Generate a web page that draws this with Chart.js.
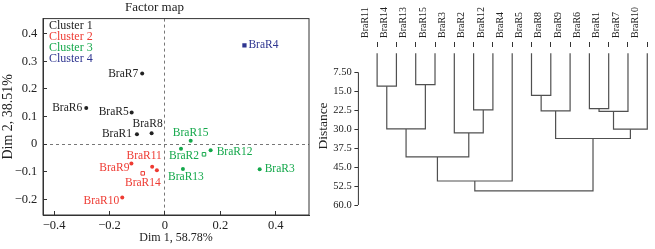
<!DOCTYPE html>
<html lang="en">
<head>
<meta charset="UTF-8">
<title>Factor map and dendrogram</title>
<script src="https://cdn.jsdelivr.net/npm/chart.js"></script>
<style>
    body { margin: 0; background: #fff; }
    #left { position: absolute; left: 0; top: 0; }
    #right { position: absolute; left: 312px; top: 0; }
</style>
</head>
<body>
<canvas id="left" width="315" height="249"></canvas>
<canvas id="right" width="343" height="249"></canvas>
<script>
// ---- factor map data ----
const names = ['BraR1','BraR2','BraR3','BraR4','BraR5','BraR6','BraR7','BraR8','BraR9','BraR10','BraR11','BraR12','BraR13','BraR14','BraR15'];
const dim1 = [-0.101, 0.058, 0.342, 0.287, -0.120, -0.284, -0.082, -0.048, -0.121, -0.154, -0.046, 0.165, 0.065, -0.029, 0.093];
const dim2 = [0.036, -0.017, -0.091, 0.358, 0.115, 0.131, 0.256, 0.039, -0.070, -0.194, -0.082, -0.022, -0.090, -0.095, 0.012];
const cluster = [1, 3, 3, 4, 1, 1, 1, 1, 2, 2, 2, 3, 3, 2, 3];
const clusterNames = ['Cluster 1', 'Cluster 2', 'Cluster 3', 'Cluster 4'];
const clusterColors = ['#222222', '#ee3b33', '#14a84b', '#2e3590'];
const centroidDim1 = [-0.080, 0.141];
const centroidDim2 = [-0.106, -0.037];
const centroidCluster = [2, 3];
const xTicks = [-0.4, -0.2, 0, 0.2, 0.4];
const yTicks = [-0.2, -0.1, 0, 0.1, 0.2, 0.3, 0.4];

// ---- dendrogram data ----
const leaves = ['BraR11','BraR14','BraR13','BraR15','BraR3','BraR2','BraR12','BraR4','BraR5','BraR8','BraR9','BraR6','BraR1','BraR7','BraR10'];
// [left node, right node, height]; m<k> refers to merge k
const merges = [
    ['BraR13', 'BraR15', 12.4],
    ['BraR11', 'BraR14', 13.0],
    ['BraR5', 'BraR8', 16.6],
    ['BraR6', 'BraR1', 21.9],
    ['BraR2', 'BraR12', 22.4],
    ['m2', 'BraR9', 22.8],
    ['m3', 'BraR7', 23.0],
    ['m1', 'm0', 29.9],
    ['m6', 'BraR10', 30.0],
    ['BraR3', 'm4', 31.5],
    ['m5', 'm8', 33.7],
    ['m7', 'm9', 41.0],
    ['m11', 'BraR4', 50.5],
    ['m12', 'm10', 54.4]
];
const distTicks = [7.5, 15, 22.5, 30, 37.5, 45, 52.5, 60];

// label placement beside each point: [align, dx, dy]
const labelPlace = {
    BraR1: ['right', -5, 0], BraR2: ['center', 3, 7], BraR3: ['left', 5, 0],
    BraR4: ['left', 4, 0], BraR5: ['right', -3, 0], BraR6: ['right', -4, 0],
    BraR7: ['right', -4, 0], BraR8: ['center', -4, -9], BraR9: ['right', -2, 5],
    BraR10: ['right', -3, 3], BraR11: ['center', -8, -11], BraR12: ['left', 6, 2],
    BraR13: ['center', 3, 8], BraR14: ['center', -14, 13], BraR15: ['center', 0, -8]
};

const serif = "'Liberation Serif', 'Times New Roman', serif";
const ink = '#222';
const fmt = v => v === 0 ? '0' : (v < 0 ? '\u2212' : '') + Math.abs(v).toFixed(1);

// build scatter datasets per cluster
const datasets = clusterNames.map((cn, ci) => {
    const pts = [];
    names.forEach((n, i) => {
        if (cluster[i] === ci + 1) pts.push({ x: dim1[i], y: dim2[i], name: n });
    });
    return {
        label: cn,
        data: pts,
        pointStyle: ci === 3 ? 'rect' : 'circle',
        pointRadius: ci === 3 ? 3 : 2,
        backgroundColor: clusterColors[ci],
        borderColor: clusterColors[ci],
        borderWidth: 0
    };
});
datasets.push({
    label: 'centroids',
    data: centroidDim1.map((x, i) => ({ x: x, y: centroidDim2[i] })),
    pointStyle: 'rect',
    pointRadius: 2.5,
    backgroundColor: '#fff',
    borderColor: centroidCluster.map(c => clusterColors[c - 1]),
    borderWidth: 1
});

const factorDecor = {
    id: 'factorDecor',
    afterDatasetsDraw(chart) {
        const ctx = chart.ctx;
        const a = chart.chartArea;
        ctx.save();
        // point labels
        ctx.font = '11.5px ' + serif;
        ctx.textBaseline = 'middle';
        chart.data.datasets.forEach((ds, di) => {
            if (di > 3) return;
            const meta = chart.getDatasetMeta(di);
            ds.data.forEach((p, i) => {
                const el = meta.data[i];
                const pl = labelPlace[p.name];
                ctx.fillStyle = clusterColors[di];
                ctx.textAlign = pl[0];
                ctx.fillText(p.name, el.x + pl[1], el.y + pl[2]);
            });
        });
        // legend text
        ctx.font = '12px ' + serif;
        ctx.textAlign = 'left';
        clusterNames.forEach((cn, i) => {
            ctx.fillStyle = clusterColors[i];
            ctx.fillText(cn, a.left + 6, a.top + 7.5 + i * 10.8);
        });
        // frame
        ctx.strokeStyle = '#333';
        ctx.lineWidth = 1;
        ctx.strokeRect(a.left, a.top, a.right - a.left, a.bottom - a.top);
        ctx.restore();
    }
};

const zeroGrid = c => (c.tick && c.tick.value === 0) ? '#777' : 'rgba(0,0,0,0)';

new Chart(document.getElementById('left'), {
    type: 'scatter',
    data: { datasets: datasets },
    options: {
        responsive: false,
        animation: false,
        layout: { padding: { left: 0, right: 6, top: 0, bottom: 0 } },
        plugins: {
            legend: { display: false },
            tooltip: { enabled: false },
            title: {
                display: true, text: 'Factor map', color: ink,
                font: { family: serif, size: 13, weight: 'normal' },
                padding: { top: 0, bottom: 3 }
            }
        },
        scales: {
            x: {
                type: 'linear', min: -0.44, max: 0.52,
                afterBuildTicks: s => { s.ticks = xTicks.map(v => ({ value: v })); },
                afterFit: s => { s.height = 34; },
                ticks: { callback: fmt, color: ink, padding: 7.5, font: { family: serif, size: 12.5 } },
                grid: { color: zeroGrid, tickColor: '#333', tickLength: -4, lineWidth: 1 },
                border: { color: '#333', dash: [3, 3] },
                title: {
                    display: true, text: 'Dim 1, 58.78%', color: ink,
                    font: { family: serif, size: 12 }, padding: { top: 0, bottom: 3.5 }
                }
            },
            y: {
                type: 'linear', min: -0.257, max: 0.455,
                afterBuildTicks: s => { s.ticks = yTicks.map(v => ({ value: v })); },
                afterFit: s => { s.width = 43; },
                ticks: { callback: fmt, color: ink, padding: 9.7, font: { family: serif, size: 12.5 } },
                grid: { color: zeroGrid, tickColor: '#333', tickLength: -4, lineWidth: 1 },
                border: { color: '#333', dash: [3, 3] },
                title: {
                    display: true, text: 'Dim 2, 38.51%', color: ink,
                    font: { family: serif, size: 14 }, padding: { top: 0, bottom: 0 }
                }
            }
        }
    },
    plugins: [factorDecor]
});

// ---- dendrogram ----
const nodes = {};
leaves.forEach((n, i) => { nodes[n] = { x: i, h: 0 }; });
const treeSets = merges.map((m, k) => {
    const a = nodes[m[0]], b = nodes[m[1]], h = m[2];
    nodes['m' + k] = { x: (a.x + b.x) / 2, h: h };
    return {
        data: [{ x: a.x, y: a.h }, { x: a.x, y: h }, { x: b.x, y: h }, { x: b.x, y: b.h }],
        showLine: true,
        borderColor: '#505050',
        borderWidth: 1.2,
        pointRadius: 0,
        fill: false,
        clip: false
    };
});

const distAxisLine = {
    id: 'distAxisLine',
    afterDraw(chart) {
        const y = chart.scales.y, ctx = chart.ctx;
        const x0 = chart.chartArea.left;
        ctx.save();
        ctx.strokeStyle = '#333';
        ctx.lineWidth = 1;
        ctx.beginPath();
        ctx.moveTo(x0, y.getPixelForValue(distTicks[0]));
        ctx.lineTo(x0, y.getPixelForValue(distTicks[distTicks.length - 1]));
        ctx.stroke();
        ctx.restore();
    }
};

new Chart(document.getElementById('right'), {
    type: 'scatter',
    data: { datasets: treeSets },
    options: {
        responsive: false,
        animation: false,
        layout: { padding: { left: 0, right: 0, top: 0, bottom: 44 } },
        plugins: { legend: { display: false }, tooltip: { enabled: false } },
        scales: {
            x: {
                type: 'linear', position: 'top', min: -0.97, max: 14.4,
                afterBuildTicks: s => { s.ticks = leaves.map((n, i) => ({ value: i })); },
                afterFit: s => { s.height = 47; },
                ticks: {
                    callback: v => leaves[v], color: ink, padding: 4, autoSkip: false,
                    minRotation: 90, maxRotation: 90, font: { family: serif, size: 10 }
                },
                grid: { drawOnChartArea: false, tickLength: 5, color: '#333' },
                border: { display: false }
            },
            y: {
                type: 'linear', reverse: true, min: -2.5, max: 60,
                afterBuildTicks: s => { s.ticks = distTicks.map(v => ({ value: v })); },
                afterFit: s => { s.width = 46.4; },
                ticks: { callback: v => v.toPrecision(3), color: ink, padding: 2.7, font: { family: serif, size: 10.5 } },
                grid: { drawOnChartArea: false, tickLength: 4, color: '#333' },
                border: { display: false },
                title: {
                    display: true, text: 'Distance', color: ink,
                    font: { family: serif, size: 13.5 }, padding: { top: 3, bottom: 0 }
                }
            }
        }
    },
    plugins: [distAxisLine]
});
</script>
</body>
</html>
